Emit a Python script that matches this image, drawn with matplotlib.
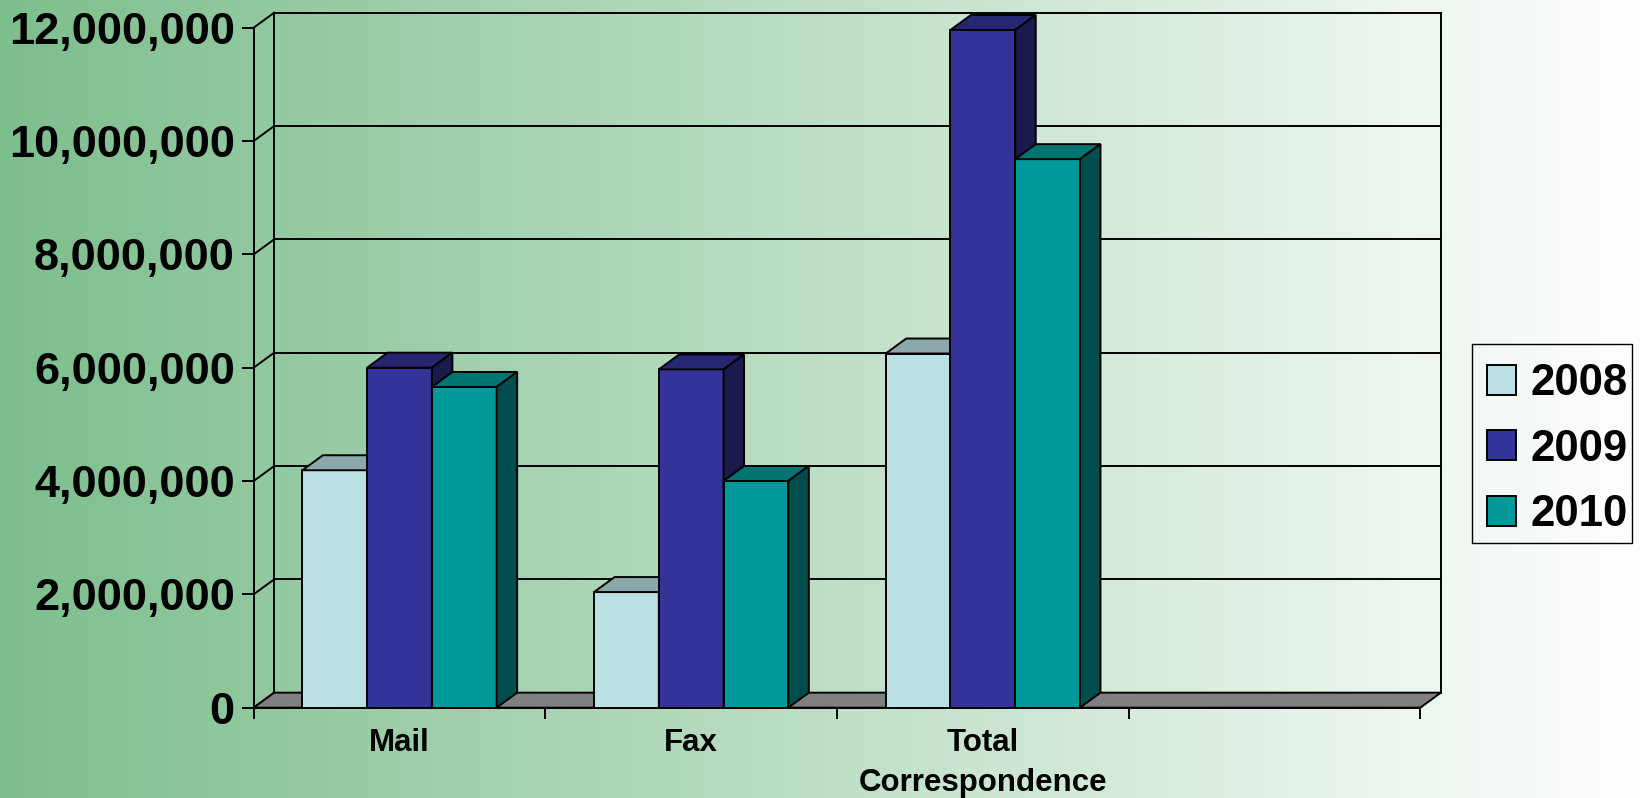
"""Correspondence volume 2008-2010, Excel-style 3D column chart"""

import matplotlib
matplotlib.use("Agg")
import matplotlib.pyplot as plt
from matplotlib.patches import Polygon, Rectangle
from matplotlib.ticker import StrMethodFormatter
import numpy as np

categories = ["Mail", "Fax", "Total\nCorrespondence", ""]
years = ["2008", "2009", "2010"]
values_2008 = [4190000, 2040000, 6250000]
values_2009 = [6000000, 5970000, 11960000]
values_2010 = [5660000, 4000000, 9680000]
y_ticks = [0, 2000000, 4000000, 6000000, 8000000, 10000000, 12000000]

front_colors = ["#BBE0E3", "#333399", "#009999"]
top_colors = ["#8DA8AA", "#262673", "#007373"]
side_colors = ["#5E7072", "#1A1A4D", "#004D4D"]


def main():
    plt.rcParams["font.family"] = ["Liberation Sans", "DejaVu Sans"]
    plt.rcParams["font.weight"] = "bold"

    fig = plt.figure(figsize=(16.43, 7.98), dpi=100)

    # background: green to white gradient
    bg = fig.add_axes([0, 0, 1, 1], zorder=-10)
    grad = np.linspace(0, 1, 512).reshape(1, -1)
    left = np.array([125, 190, 141]) / 255
    right = np.array([255, 255, 255]) / 255
    img = left[None, None, :] + (right - left)[None, None, :] * grad[..., None]
    bg.imshow(img, aspect="auto", extent=[0, 1, 0, 1])
    bg.axis("off")

    ax_box = [0.1544, 0.1132, 0.7101, 0.8521]
    ax = fig.add_axes(ax_box)
    ax.patch.set_visible(False)
    n_cat = len(categories)
    ymax = 12000000
    ax.set_xlim(0, n_cat)
    ax.set_ylim(0, ymax)

    # depth offset of the 3D box, converted from pixels to data units
    dx = 20.5 / (ax_box[2] * 1643 / n_cat)
    dy = 15.0 / (ax_box[3] * 798 / ymax)
    lw = 1.4

    # back wall, side wall and floor
    for v in y_ticks:
        ax.plot([dx, n_cat + dx], [v + dy, v + dy], color="black", lw=lw, clip_on=False, zorder=1)
        ax.plot([0, dx], [v, v + dy], color="black", lw=lw, clip_on=False, zorder=1)
    ax.plot([dx, dx], [dy, ymax + dy], color="black", lw=lw, clip_on=False, zorder=1)
    ax.plot([n_cat + dx, n_cat + dx], [dy, ymax + dy], color="black", lw=lw, clip_on=False, zorder=1)
    floor = Polygon([(0, 0), (n_cat, 0), (n_cat + dx, dy), (dx, dy)], closed=True,
                    facecolor="#808080", edgecolor="black", lw=lw, clip_on=False, zorder=1.5)
    ax.add_patch(floor)

    # bars
    series = [values_2008, values_2009, values_2010]
    w = 0.222
    x = np.arange(len(values_2008)) + 0.5
    for j, vals in enumerate(series):
        xs = x + (j - 1) * w
        z = 3 + j
        ax.bar(xs, vals, width=w, color=front_colors[j], edgecolor="black",
               linewidth=lw, label=years[j], zorder=z)
        for xc, h in zip(xs, vals):
            l, r = xc - w / 2, xc + w / 2
            top = Polygon([(l, h), (r, h), (r + dx, h + dy), (l + dx, h + dy)], closed=True,
                          facecolor=top_colors[j], edgecolor="black", lw=lw,
                          clip_on=False, zorder=z + 0.01)
            side = Polygon([(r, 0), (r + dx, dy), (r + dx, h + dy), (r, h)], closed=True,
                           facecolor=side_colors[j], edgecolor="black", lw=lw,
                           clip_on=False, zorder=z + 0.02)
            ax.add_patch(top)
            ax.add_patch(side)

    for s in ["top", "right"]:
        ax.spines[s].set_visible(False)
    for s in ["left", "bottom"]:
        ax.spines[s].set_linewidth(lw)
        ax.spines[s].set_zorder(2)

    ax.set_yticks(y_ticks)
    ax.yaxis.set_major_formatter(StrMethodFormatter("{x:,.0f}"))
    ax.tick_params(axis="y", length=8.6, width=lw, pad=5, labelsize=32.5)

    ax.set_xticks(range(n_cat + 1))
    ax.set_xticklabels([""] * (n_cat + 1))
    ax.tick_params(axis="x", which="major", length=8, width=lw)
    ax.set_xticks(np.arange(n_cat) + 0.5, minor=True)
    ax.set_xticklabels(categories, minor=True)
    ax.tick_params(axis="x", which="minor", length=0, pad=15, labelsize=22.5)
    for t in ax.get_xticklabels(minor=True):
        t.set_linespacing(1.4)

    # legend with a hand-drawn frame
    ax.legend(loc="upper left", bbox_to_anchor=(0.9049, 0.545),
              bbox_transform=fig.transFigure, borderaxespad=0, borderpad=0,
              fontsize=31.5, frameon=False,
              handlelength=0.67, handleheight=0.67, handletextpad=0.33,
              labelspacing=0.56)
    frame = Rectangle((1472 / 1643, 1 - 543 / 798), 160 / 1643, 199 / 798,
                      transform=fig.transFigure, facecolor="none",
                      edgecolor="black", lw=1.0)
    fig.patches.append(frame)

    fig.savefig("out.png", dpi=100)


main()
